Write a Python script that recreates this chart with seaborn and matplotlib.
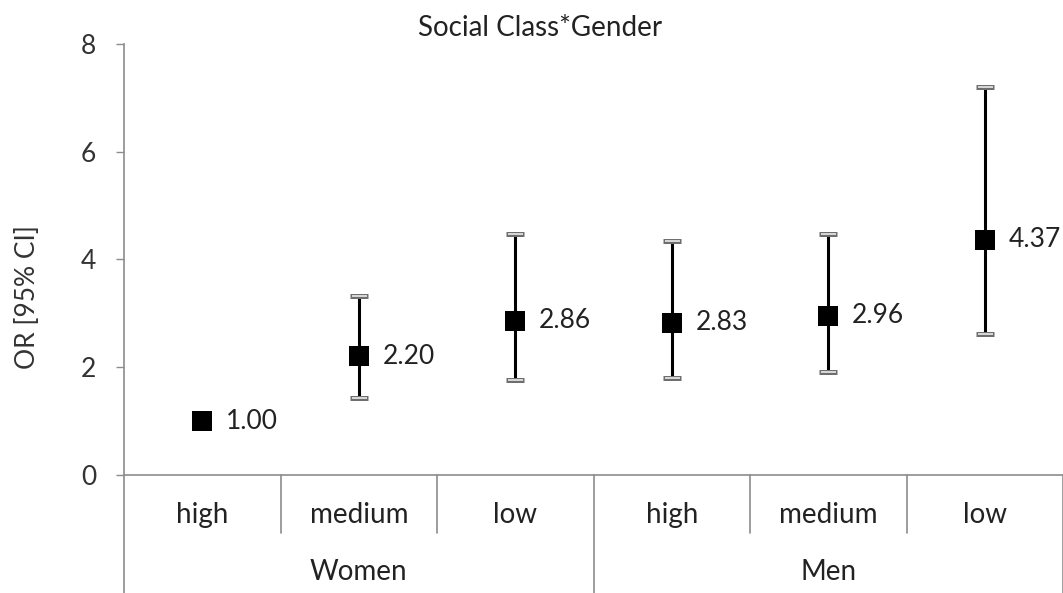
import matplotlib
matplotlib.use("Agg")
import matplotlib.pyplot as plt
import matplotlib.transforms as mtransforms
import numpy as np
import pandas as pd
import seaborn as sns

# Odds ratios with 95% confidence intervals by social class within gender
groups = ["Women", "Women", "Women", "Men", "Men", "Men"]
classes = ["high", "medium", "low", "high", "medium", "low"]
odds_ratio = [1.00, 2.20, 2.86, 2.83, 2.96, 4.37]
ci_low = [np.nan, 1.43, 1.77, 1.80, 1.91, 2.62]
ci_high = [np.nan, 3.33, 4.48, 4.35, 4.48, 7.20]
y_ticks = [0, 2, 4, 6, 8]

df = pd.DataFrame({
    "pos": np.arange(len(classes)),
    "group": groups,
    "social_class": classes,
    "OR": odds_ratio,
    "lo": ci_low,
    "hi": ci_high,
})

sns.set_theme(style="white")
plt.rcParams["font.family"] = ["Lato", "DejaVu Sans"]

fig = plt.figure(figsize=(10.63, 5.93), dpi=100)
ax = fig.add_axes([0.1167, 0.199, 0.8833, 0.7268])

# Confidence intervals: caps drawn as a grey outline with a light core
err_lo = df["OR"] - df["lo"]
err_hi = df["hi"] - df["OR"]
_, outer_caps, _ = ax.errorbar(df["pos"], df["OR"], yerr=[err_lo, err_hi], fmt="none",
                               ecolor="black", elinewidth=2.2, capsize=6.5,
                               capthick=3.6, zorder=2)
for c in outer_caps:
    c.set_markeredgecolor("#6e6e6e")
_, inner_caps, _ = ax.errorbar(df["pos"], df["OR"], yerr=[err_lo, err_hi], fmt="none",
                               ecolor="#e2e2e2", elinewidth=0, capsize=5.4,
                               capthick=1.3, zorder=3)
for c in inner_caps:
    c.set_markeredgecolor("#e2e2e2")

sns.scatterplot(data=df, x="pos", y="OR", marker="s", s=190, color="black",
                edgecolor="black", linewidth=0, ax=ax, zorder=4, legend=False)

for x, y in zip(df["pos"], df["OR"]):
    ax.annotate(f"{y:.2f}", (x, y), xytext=(17, 0), textcoords="offset points",
                ha="left", va="center", fontsize=19, color="#222222")

ax.set_xlim(-0.5, 5.5)
ax.set_ylim(0, 8)
ax.set_yticks(y_ticks)
ax.set_yticklabels([str(t) for t in y_ticks], fontsize=19, color="#333333")
ax.tick_params(axis="y", direction="out", length=6, width=1, color="#8c8c8c",
               left=True, pad=14)
ax.set_xticks([])
ax.set_xlabel("")
ax.set_ylabel("")

for side in ["top", "right"]:
    ax.spines[side].set_visible(False)
for side in ["left", "bottom"]:
    ax.spines[side].set_color("#8c8c8c")
    ax.spines[side].set_linewidth(1.2)

# Two-level category axis
trans = mtransforms.blended_transform_factory(ax.transData, ax.transAxes)
sep_kw = dict(color="#8c8c8c", lw=1.2, transform=trans, clip_on=False)
for b in [0.5, 1.5, 3.5, 4.5]:
    ax.plot([b, b], [0, -0.135], **sep_kw)
for b in [-0.5, 2.5, 5.5]:
    ax.plot([b, b], [0, -0.28], **sep_kw)

for x, name in zip(df["pos"], df["social_class"]):
    ax.text(x, -0.093, name, transform=trans, ha="center", va="center",
            fontsize=20, color="#222222")
for g in ["Women", "Men"]:
    xs = df.loc[df["group"] == g, "pos"]
    ax.text(xs.mean(), -0.225, g, transform=trans, ha="center", va="center",
            fontsize=20, color="#222222")

fig.text(0.026, 0.499, "OR [95% CI]", rotation=90, ha="center", va="center",
         fontsize=19, color="#333333")
fig.text(0.508, 0.953, "Social Class*Gender", ha="center", va="center",
         fontsize=20, color="#222222")

fig.savefig("out.png", dpi=100)
